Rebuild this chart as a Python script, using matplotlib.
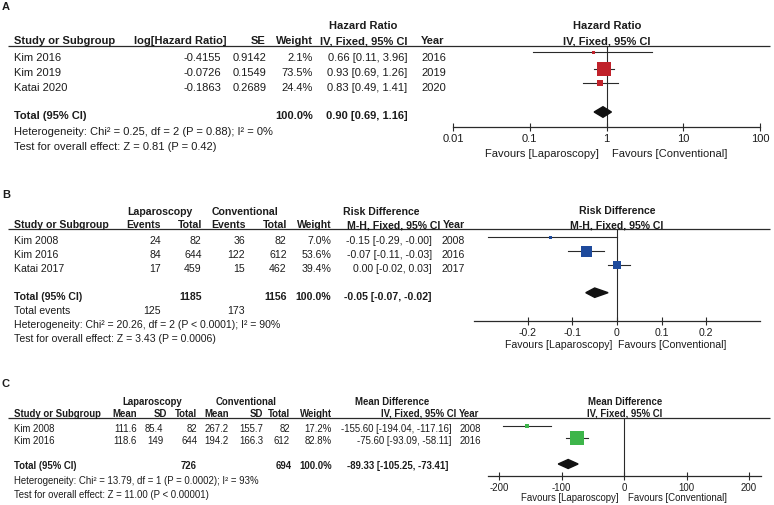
import matplotlib
matplotlib.use("Agg")
import matplotlib.pyplot as plt
from matplotlib.ticker import NullLocator

plt.rcParams['font.family'] = ['Liberation Sans', 'DejaVu Sans']

# ---------------- data ----------------
# Panel A: hazard ratio
a_studies = ['Kim 2016', 'Kim 2019', 'Katai 2020']
a_loghr = [-0.4155, -0.0726, -0.1863]
a_se = [0.9142, 0.1549, 0.2689]
a_weight = [2.1, 73.5, 24.4]
a_hr = [0.66, 0.93, 0.83]
a_lo = [0.11, 0.69, 0.49]
a_hi = [3.96, 1.26, 1.41]
a_year = [2016, 2019, 2020]
a_total = [0.90, 0.69, 1.16]
a_ticks = [0.01, 0.1, 1, 10, 100]
a_ticklabels = ['0.01', '0.1', '1', '10', '100']

# Panel B: risk difference
b_studies = ['Kim 2008', 'Kim 2016', 'Katai 2017']
b_lap_events = [24, 84, 17]
b_lap_total = [82, 644, 459]
b_con_events = [36, 122, 15]
b_con_total = [82, 612, 462]
b_weight = [7.0, 53.6, 39.4]
b_rd = [-0.15, -0.07, 0.00]
b_lo = [-0.29, -0.11, -0.02]
b_hi = [-0.00, -0.03, 0.03]
b_year = [2008, 2016, 2017]
b_total = [-0.05, -0.07, -0.02]
b_sum_total = [1185, 1156]
b_sum_events = [125, 173]
b_ticks = [-0.2, -0.1, 0, 0.1, 0.2]
b_ticklabels = ['-0.2', '-0.1', '0', '0.1', '0.2']

# Panel C: mean difference
c_studies = ['Kim 2008', 'Kim 2016']
c_lap_mean = [111.6, 118.6]
c_lap_sd = [85.4, 149]
c_lap_n = [82, 644]
c_con_mean = [267.2, 194.2]
c_con_sd = [155.7, 166.3]
c_con_n = [82, 612]
c_weight = [17.2, 82.8]
c_md = [-155.60, -75.60]
c_lo = [-194.04, -93.09]
c_hi = [-117.16, -58.11]
c_year = [2008, 2016]
c_total = [-89.33, -105.25, -73.41]
c_sum_total = [726, 694]
c_ticks = [-200, -100, 0, 100, 200]
c_ticklabels = ['-200', '-100', '0', '100', '200']

# ---------------- figure ----------------
W, H = 774, 505
fig = plt.figure(figsize=(W / 100, H / 100), dpi=100)
bg = fig.add_axes([0, 0, 1, 1])
bg.set_xlim(0, W)
bg.set_ylim(H, 0)
bg.axis('off')

TXT = '#1c1c1c'
LC = '#2a2a2a'
FS_A = 8.0
FS_B = 7.6
FS_C = 6.9


def t(x, y, s, ha='left', bold=False, size=FS_A):
    bg.text(x, y, s, ha=ha, va='baseline', fontsize=size,
            fontweight='bold' if bold else 'normal', color=TXT)


def hline(y, x0=8, x1=770):
    bg.plot([x0, x1], [y, y], color=LC, lw=0.9, solid_capstyle='butt')


def forest(x0, x1, ytop, yaxis, xlim, scale, ticks, ticklabels, null, size, pad):
    ax = fig.add_axes([x0 / W, 1 - yaxis / H, (x1 - x0) / W, (yaxis - ytop) / H])
    ax.set_xscale(scale)
    ax.set_xlim(*xlim)
    ax.set_ylim(yaxis, ytop)
    for s in ['top', 'right', 'left']:
        ax.spines[s].set_visible(False)
    ax.spines['bottom'].set_color(LC)
    ax.spines['bottom'].set_linewidth(0.9)
    ax.set_yticks([])
    ax.set_xticks(ticks)
    ax.set_xticklabels(ticklabels)
    ax.xaxis.set_minor_locator(NullLocator())
    ax.tick_params(axis='x', direction='inout', length=5.8, width=0.8, pad=pad,
                   labelsize=size, color=LC, labelcolor=TXT)
    ax.axvline(null, color=LC, lw=0.8, zorder=1)
    ax.patch.set_alpha(0)
    return ax


def draw_studies(ax, est, lo, hi, ys, sides, color):
    for e, l, h, y, s in zip(est, lo, hi, ys, sides):
        ax.plot([l, h], [y, y], color=LC, lw=0.8, zorder=2, clip_on=False)
        ax.plot([e], [y], marker='s', markersize=s * 0.72, color=color,
                markeredgewidth=0, linestyle='none', zorder=3, clip_on=False)


def diamond(ax, tot, y, half):
    e, l, h = tot
    ax.fill([l, e, h, e], [y, y - half, y, y + half], color='#111111', zorder=4,
            clip_on=False)


# ================= Panel A =================
fa = FS_A
t(2, 10, 'A', bold=True, size=8)
t(363, 29, 'Hazard Ratio', ha='center', bold=True, size=fa)
t(607, 29, 'Hazard Ratio', ha='center', bold=True, size=fa)
hy = 44.3
t(14, hy, 'Study or Subgroup', bold=True, size=fa)
t(227, hy, 'log[Hazard Ratio]', ha='right', bold=True, size=fa)
t(265.5, hy, 'SE', ha='right', bold=True, size=fa)
t(313, hy, 'Weight', ha='right', bold=True, size=fa)
t(407, hy, 'IV, Fixed, 95% CI', ha='right', bold=True, size=fa)
t(421, hy, 'Year', bold=True, size=fa)
t(607, hy, 'IV, Fixed, 95% CI', ha='center', bold=True, size=fa)
hline(45.5)
a_rows = [61, 76, 90.7]
for i, y in enumerate(a_rows):
    t(14, y, a_studies[i], size=fa)
    t(221.3, y, f'{a_loghr[i]:.4f}', ha='right', size=fa)
    t(266.7, y, f'{a_se[i]:.4f}', ha='right', size=fa)
    t(313, y, f'{a_weight[i]:.1f}%', ha='right', size=fa)
    t(407, y, f'{a_hr[i]:.2f} [{a_lo[i]:.2f}, {a_hi[i]:.2f}]', ha='right', size=fa)
    t(421, y, str(a_year[i]), size=fa)
t(14, 119, 'Total (95% CI)', bold=True, size=fa)
t(313, 119, f'{sum(a_weight):.1f}%', ha='right', bold=True, size=fa)
t(408, 119, f'{a_total[0]:.2f} [{a_total[1]:.2f}, {a_total[2]:.2f}]', ha='right', bold=True, size=fa)
t(14, 135, 'Heterogeneity: Chi² = 0.25, df = 2 (P = 0.88); I² = 0%', size=fa)
t(14, 150, 'Test for overall effect: Z = 0.81 (P = 0.42)', size=fa)

axA = forest(453, 760, 45.5, 126.7, (0.01, 100), 'log', a_ticks, a_ticklabels, 1, fa, 2.4)
draw_studies(axA, a_hr, a_lo, a_hi, [52, 69, 83.5], [3, 14, 6], '#C0222B')
diamond(axA, a_total, 112, 5.3)
t(599, 156.7, 'Favours [Laparoscopy]', ha='right', size=fa)
t(612, 156.7, 'Favours [Conventional]', size=fa)

# ================= Panel B =================
fb = FS_B
t(2, 197.7, 'B', bold=True, size=8)
gy = 215
t(160, gy, 'Laparoscopy', ha='center', bold=True, size=fb)
t(245, gy, 'Conventional', ha='center', bold=True, size=fb)
t(381, gy, 'Risk Difference', ha='center', bold=True, size=fb)
t(617, 214.3, 'Risk Difference', ha='center', bold=True, size=fb)
hy = 228.3
t(14, hy, 'Study or Subgroup', bold=True, size=fb)
t(161, hy, 'Events', ha='right', bold=True, size=fb)
t(202, hy, 'Total', ha='right', bold=True, size=fb)
t(245.7, hy, 'Events', ha='right', bold=True, size=fb)
t(287.3, hy, 'Total', ha='right', bold=True, size=fb)
t(331.5, hy, 'Weight', ha='right', bold=True, size=fb)
t(440, hy, 'M-H, Fixed, 95% CI', ha='right', bold=True, size=fb)
t(442.5, hy, 'Year', bold=True, size=fb)
t(617, hy, 'M-H, Fixed, 95% CI', ha='center', bold=True, size=fb)
hline(229.3)
b_rows = [244, 257.5, 271.5]
for i, y in enumerate(b_rows):
    t(14, y, b_studies[i], size=fb)
    t(161, y, str(b_lap_events[i]), ha='right', size=fb)
    t(201.7, y, str(b_lap_total[i]), ha='right', size=fb)
    t(245, y, str(b_con_events[i]), ha='right', size=fb)
    t(286.7, y, str(b_con_total[i]), ha='right', size=fb)
    t(331.5, y, f'{b_weight[i]:.1f}%', ha='right', size=fb)
    t(431.7, y, f'{b_rd[i]:.2f} [{b_lo[i]:.2f}, {b_hi[i]:.2f}]', ha='right', size=fb)
    t(441.7, y, str(b_year[i]), size=fb)
t(14, 300, 'Total (95% CI)', bold=True, size=fb)
t(201.5, 300, str(b_sum_total[0]), ha='right', bold=True, size=fb)
t(287, 300, str(b_sum_total[1]), ha='right', bold=True, size=fb)
t(331.5, 300, f'{sum(b_weight):.1f}%', ha='right', bold=True, size=fb)
t(432, 300, f'{b_total[0]:.2f} [{b_total[1]:.2f}, {b_total[2]:.2f}]', ha='right', bold=True, size=fb)
t(14, 314, 'Total events', size=fb)
t(160.5, 314, str(b_sum_events[0]), ha='right', size=fb)
t(244.5, 314, str(b_sum_events[1]), ha='right', size=fb)
t(14, 328.3, 'Heterogeneity: Chi² = 20.26, df = 2 (P < 0.0001); I² = 90%', size=fb)
t(14, 341.5, 'Test for overall effect: Z = 3.43 (P = 0.0006)', size=fb)

axB = forest(474, 760, 229.3, 320.7, (-0.3206, 0.3206), 'linear', b_ticks, b_ticklabels, 0, fb, 2.1)
draw_studies(axB, b_rd, b_lo, b_hi, [236.7, 251, 265], [3, 11, 8], '#1E4A9C')
diamond(axB, b_total, 292.7, 4.7)
t(612, 348.3, 'Favours [Laparoscopy]', ha='right', size=fb)
t(618.3, 348.3, 'Favours [Conventional]', size=fb)

# ================= Panel C =================
fc = FS_C
t(2, 387, 'C', bold=True, size=8)
gy = 404.6
t(152, gy, 'Laparoscopy', ha='center', bold=True, size=fc)
t(246, gy, 'Conventional', ha='center', bold=True, size=fc)
t(391.7, gy, 'Mean Difference', ha='center', bold=True, size=fc)
t(624.7, gy, 'Mean Difference', ha='center', bold=True, size=fc)
hy = 416.8
t(14, hy, 'Study or Subgroup', bold=True, size=fc)
t(136.7, hy, 'Mean', ha='right', bold=True, size=fc)
t(166.7, hy, 'SD', ha='right', bold=True, size=fc)
t(197.3, hy, 'Total', ha='right', bold=True, size=fc)
t(229, hy, 'Mean', ha='right', bold=True, size=fc)
t(263, hy, 'SD', ha='right', bold=True, size=fc)
t(290, hy, 'Total', ha='right', bold=True, size=fc)
t(331.7, hy, 'Weight', ha='right', bold=True, size=fc)
t(456, hy, 'IV, Fixed, 95% CI', ha='right', bold=True, size=fc)
t(458.5, hy, 'Year', bold=True, size=fc)
t(625, hy, 'IV, Fixed, 95% CI', ha='center', bold=True, size=fc)
hline(418)
c_rows = [431.5, 444.5]
for i, y in enumerate(c_rows):
    t(14, y, c_studies[i], size=fc)
    t(136.7, y, f'{c_lap_mean[i]:g}', ha='right', size=fc)
    t(163.3, y, f'{c_lap_sd[i]:g}', ha='right', size=fc)
    t(197.3, y, str(c_lap_n[i]), ha='right', size=fc)
    t(228.3, y, f'{c_con_mean[i]:g}', ha='right', size=fc)
    t(263.3, y, f'{c_con_sd[i]:g}', ha='right', size=fc)
    t(290, y, str(c_con_n[i]), ha='right', size=fc)
    t(331.7, y, f'{c_weight[i]:.1f}%', ha='right', size=fc)
    t(451.7, y, f'{c_md[i]:.2f} [{c_lo[i]:.2f}, {c_hi[i]:.2f}]', ha='right', size=fc)
    t(460, y, str(c_year[i]), size=fc)
t(14, 469, 'Total (95% CI)', bold=True, size=fc)
t(196.7, 469, str(c_sum_total[0]), ha='right', bold=True, size=fc)
t(292, 469, str(c_sum_total[1]), ha='right', bold=True, size=fc)
t(331.7, 469, f'{sum(c_weight):.1f}%', ha='right', bold=True, size=fc)
t(448.3, 469, f'{c_total[0]:.2f} [{c_total[1]:.2f}, {c_total[2]:.2f}]', ha='right', bold=True, size=fc)
t(14, 483.7, 'Heterogeneity: Chi² = 13.79, df = 1 (P = 0.0002); I² = 93%', size=fc)
t(14, 497.7, 'Test for overall effect: Z = 11.00 (P < 0.00001)', size=fc)

axC = forest(488, 761, 418, 476, (-217.6, 219.2), 'linear', c_ticks, c_ticklabels, 0, fc, 1.9)
draw_studies(axC, c_md, c_lo, c_hi, [425.7, 437.7], [5, 13.5], '#3DB54A')
diamond(axC, c_total, 464, 4.5)
t(618.3, 500.7, 'Favours [Laparoscopy]', ha='right', size=fc)
t(628.3, 500.7, 'Favours [Conventional]', size=fc)

fig.savefig('out.png', dpi=100)
